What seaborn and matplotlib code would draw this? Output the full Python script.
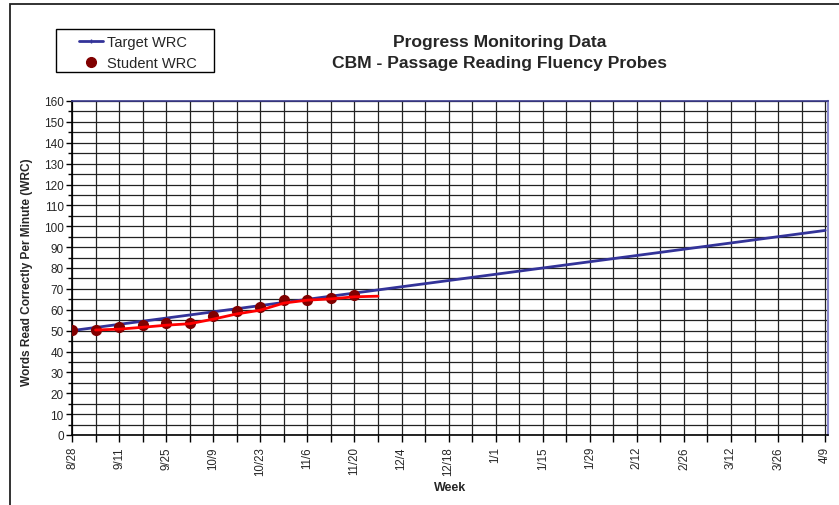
import matplotlib
matplotlib.use("Agg")
import matplotlib.pyplot as plt
import matplotlib.patches as mpatches
from matplotlib.lines import Line2D
from matplotlib.ticker import MultipleLocator
import seaborn as sns
import pandas as pd

# ---------------- data ----------------
week_labels = ["8/28", "9/11", "9/25", "10/9", "10/23", "11/6", "11/20", "12/4",
               "12/18", "1/1", "1/15", "1/29", "2/12", "2/26", "3/12", "3/26", "4/9"]
target_weeks = list(range(33))
target_wrc = [50, 51.5, 53, 54.5, 56, 57.5, 59, 60.5, 62, 63.5, 65, 66.5, 68,
              69.5, 71, 72.5, 74, 75.5, 77, 78.5, 80, 81.5, 83, 84.5, 86, 87.5,
              89, 90.5, 92, 93.5, 95, 96.5, 98]
student_weeks = list(range(13))
student_wrc = [50.5, 50.5, 51.5, 52.5, 53.5, 53.5, 57, 59.5, 61.5, 64.5, 64.5, 65.5, 67]
trend_weeks = list(range(1, 14))
trend_wrc = [50.3, 50.7, 51.6, 52.6, 53.3, 55.5, 58, 59.8, 63.2, 64.6, 65.2, 66.2, 66.5]

target_df = pd.DataFrame({"week": target_weeks, "wrc": target_wrc})
student_df = pd.DataFrame({"week": student_weeks, "wrc": student_wrc})
trend_df = pd.DataFrame({"week": trend_weeks, "wrc": trend_wrc})

# ---------------- style ----------------
sns.set_style("white")
plt.rcParams["font.family"] = ["Liberation Sans", "DejaVu Sans"]

NAVY = "#333399"
W, H = 839, 506
fig = plt.figure(figsize=(W / 100, H / 100), dpi=100)
ax = fig.add_axes([72 / W, 1 - 436 / H, (828 - 72) / W, (436 - 102) / H])

# outer frame (top and left visible)
fig.patches.append(mpatches.Rectangle((10 / W, -0.2), 1.5, 0.2 + 1 - 5 / H,
                                      transform=fig.transFigure, fill=False,
                                      edgecolor="#222222", linewidth=1.3, zorder=0))
# legend box
fig.patches.append(mpatches.Rectangle((56 / W, 1 - 73 / H), (214 - 56) / W, 43 / H,
                                      transform=fig.transFigure, facecolor="white",
                                      edgecolor="black", linewidth=1.0, zorder=1))

sns.lineplot(data=target_df, x="week", y="wrc", ax=ax, color=NAVY, linewidth=2,
             zorder=3, legend=False)
sns.scatterplot(data=student_df, x="week", y="wrc", ax=ax, color="#800000", s=65,
                edgecolor="#800000", linewidth=0, zorder=4, legend=False)
sns.lineplot(data=trend_df, x="week", y="wrc", ax=ax, color="#ff0000", linewidth=2,
             zorder=5, legend=False)

ax.set_xlim(0, 32.12)
ax.set_ylim(0, 160)
ax.set_xticks(list(range(0, 33, 2)))
ax.set_xticklabels(week_labels, rotation=90, fontsize=8.3)
ax.xaxis.set_minor_locator(MultipleLocator(1))
ax.yaxis.set_major_locator(MultipleLocator(10))
ax.yaxis.set_minor_locator(MultipleLocator(5))
ax.tick_params(axis="y", which="major", labelsize=8.5, length=4, width=1, color="black",
               left=True, pad=2)
ax.tick_params(axis="y", which="minor", length=3, width=1, color="black", left=True)
ax.tick_params(axis="x", which="major", length=5, width=1, color="black", bottom=True, pad=3)
ax.tick_params(axis="x", which="minor", length=5, width=1, color="black", bottom=True)

ax.grid(True, which="both", color="#222222", linewidth=0.9)
ax.set_axisbelow(True)

for side in ["left", "bottom"]:
    ax.spines[side].set_color("black")
    ax.spines[side].set_linewidth(1.2)
ax.spines["top"].set_color("#3a3a8c")
ax.spines["top"].set_linewidth(1.2)
ax.spines["right"].set_color("#8888cc")
ax.spines["right"].set_linewidth(1.5)

ax.set_xlabel("Week", fontsize=9, fontweight="bold")
ax.set_ylabel("Words Read Correctly Per Minute (WRC)", fontsize=8.6, fontweight="bold")
ax.xaxis.set_label_coords(0.5, -0.137)
ax.yaxis.set_label_coords(-0.052, 0.49)

fig.text(500 / W, 1 - 43 / H, "Progress Monitoring Data", ha="center", va="center",
         fontsize=12.6, fontweight="bold")
fig.text(500 / W, 1 - 64 / H, "CBM - Passage Reading Fluency Probes", ha="center",
         va="center", fontsize=12.6, fontweight="bold")

handles = [Line2D([0], [0], color=NAVY, linewidth=2, marker="|", markersize=3,
                  markeredgewidth=1),
           Line2D([0], [0], color="none", marker="o", markerfacecolor="#800000",
                  markeredgecolor="#800000", markersize=7)]
leg = fig.legend(handles, ["Target WRC", "Student WRC"], loc="upper left",
                 bbox_to_anchor=(79 / W, 1 - 36 / H), fontsize=10.5, frameon=False,
                 borderpad=0, handlelength=1.65, handletextpad=0.3,
                 labelspacing=0.5, borderaxespad=0)
leg.set_zorder(2)

fig.savefig("out.png", dpi=100)
